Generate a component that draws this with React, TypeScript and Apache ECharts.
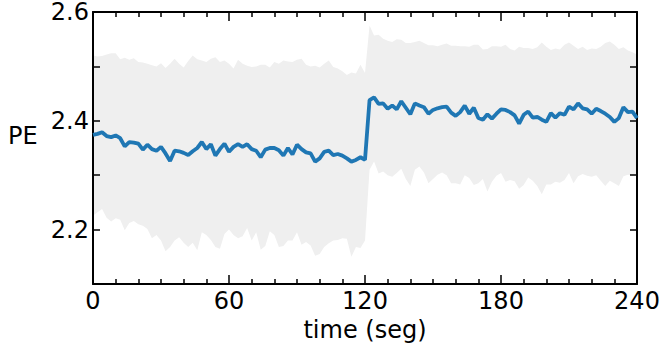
import React, { useEffect, useRef } from 'react';
import * as echarts from 'echarts';

// time grid (seconds), sampled every 2 s
const timeSec: number[] = Array.from({ length: 121 }, (_, i) => i * 2);

const xTickLabels = ['0', '60', '120', '180', '240'];
const yTickLabels = ['2.2', '2.4', '2.6'];

// mean PE
const meanPE: number[] = [
  2.374, 2.376, 2.379, 2.372, 2.370, 2.373, 2.368, 2.353, 2.361, 2.360,
  2.358, 2.347, 2.356, 2.348, 2.345, 2.352, 2.340, 2.326, 2.345, 2.344,
  2.341, 2.337, 2.344, 2.350, 2.361, 2.348, 2.357, 2.336, 2.348, 2.358,
  2.343, 2.352, 2.357, 2.352, 2.357, 2.348, 2.345, 2.333, 2.347, 2.350,
  2.350, 2.346, 2.336, 2.350, 2.338, 2.356, 2.348, 2.342, 2.340, 2.325,
  2.331, 2.343, 2.345, 2.337, 2.339, 2.336, 2.331, 2.325, 2.328, 2.333,
  2.328,
  2.438, 2.443, 2.431, 2.432, 2.422, 2.428, 2.421, 2.436, 2.424, 2.412,
  2.432, 2.428, 2.425, 2.413, 2.420, 2.423, 2.425, 2.426, 2.415, 2.409,
  2.416, 2.428, 2.413, 2.424, 2.405, 2.402, 2.412, 2.404, 2.413, 2.421,
  2.420, 2.416, 2.410, 2.395, 2.411, 2.417, 2.406, 2.407, 2.402, 2.398,
  2.414, 2.406, 2.414, 2.411, 2.426, 2.421, 2.432, 2.423, 2.421, 2.413,
  2.422, 2.418, 2.413, 2.407, 2.398, 2.405, 2.425, 2.416, 2.417, 2.405,
];

// upper edge of the spread band
const upperPE: number[] = [
  2.520, 2.518, 2.519, 2.522, 2.524, 2.524, 2.513, 2.516, 2.512, 2.515,
  2.508, 2.507, 2.505, 2.502, 2.500, 2.506, 2.497, 2.505, 2.514, 2.505,
  2.498, 2.510, 2.520, 2.513, 2.511, 2.508, 2.514, 2.517, 2.508, 2.511,
  2.505, 2.496, 2.512, 2.505, 2.501, 2.499, 2.500, 2.503, 2.503, 2.498,
  2.508, 2.505, 2.511, 2.509, 2.508, 2.512, 2.514, 2.503, 2.500, 2.501,
  2.498, 2.505, 2.511, 2.499, 2.496, 2.491, 2.484, 2.489, 2.487, 2.503,
  2.488,
  2.575, 2.557, 2.558, 2.551, 2.547, 2.545, 2.550, 2.549, 2.543, 2.543,
  2.545, 2.547, 2.543, 2.539, 2.539, 2.537, 2.540, 2.542, 2.538, 2.538,
  2.537, 2.537, 2.536, 2.540, 2.540, 2.531, 2.532, 2.537, 2.537, 2.536,
  2.540, 2.532, 2.529, 2.536, 2.534, 2.534, 2.532, 2.535, 2.544, 2.536,
  2.530, 2.533, 2.531, 2.540, 2.544, 2.538, 2.532, 2.536, 2.530, 2.533,
  2.532, 2.536, 2.543, 2.546, 2.540, 2.532, 2.535, 2.529, 2.526, 2.522,
];

// lower edge of the spread band
const lowerPE: number[] = [
  2.226, 2.232, 2.238, 2.222, 2.215, 2.221, 2.218, 2.199, 2.212, 2.216,
  2.210, 2.207, 2.201, 2.184, 2.190, 2.180, 2.160, 2.168, 2.180, 2.186,
  2.176, 2.168, 2.176, 2.162, 2.195, 2.190, 2.181, 2.168, 2.165, 2.192,
  2.200, 2.190, 2.184, 2.188, 2.203, 2.180, 2.195, 2.163, 2.170, 2.197,
  2.190, 2.168, 2.170, 2.180, 2.180, 2.195, 2.172, 2.177, 2.171, 2.152,
  2.155, 2.168, 2.175, 2.180, 2.181, 2.184, 2.183, 2.150, 2.168, 2.166,
  2.180,
  2.310, 2.325, 2.303, 2.307, 2.300, 2.297, 2.304, 2.312, 2.293, 2.280,
  2.310, 2.316, 2.305, 2.285, 2.293, 2.301, 2.305, 2.300, 2.285, 2.285,
  2.283, 2.300, 2.295, 2.282, 2.285, 2.293, 2.270, 2.288, 2.299, 2.304,
  2.288, 2.291, 2.289, 2.275, 2.282, 2.296, 2.290, 2.280, 2.265, 2.283,
  2.283, 2.288, 2.286, 2.291, 2.304, 2.285, 2.298, 2.302, 2.299, 2.297,
  2.300, 2.290, 2.280, 2.290, 2.285, 2.280, 2.298, 2.301, 2.300, 2.302,
];

const FONT = 'DejaVu Sans';
const FS = 24;

export default function App() {
  const ref = useRef<HTMLDivElement>(null);

  useEffect(() => {
    if (!ref.current) return;
    const chart = echarts.init(ref.current, null, { renderer: 'svg' });

    const bandData = timeSec.map((t, i) => [t, lowerPE[i], upperPE[i]]);
    const meanData = timeSec.map((t, i) => [t, meanPE[i]]);

    const axisLine = { show: true, onZero: false, lineStyle: { color: '#000', width: 2 } };
    const tickStyle = { color: '#000', width: 1.5 };

    const xBase = {
      type: 'value',
      min: 0,
      max: 240,
      interval: 60,
      z: 3,
      axisLine,
      axisTick: { show: true, inside: true, length: 9, lineStyle: tickStyle },
      minorTick: { show: true, splitNumber: 6, length: 5, lineStyle: tickStyle },
      splitLine: { show: false },
      minorSplitLine: { show: false },
    };

    const yBase = {
      type: 'value',
      min: 2.1,
      max: 2.6,
      interval: 0.1,
      z: 3,
      axisLine,
      axisTick: { show: true, inside: true, length: 7, lineStyle: tickStyle },
      splitLine: { show: false },
    };

    chart.setOption({
      animation: false,
      backgroundColor: '#ffffff',
      grid: { left: 93, right: 28, top: 9, bottom: 68, containLabel: false },
      xAxis: [
        {
          ...xBase,
          position: 'bottom',
          axisLabel: {
            show: true,
            color: '#000',
            fontFamily: FONT,
            fontSize: FS,
            margin: 5,
            formatter: (v: number) => {
              const s = String(Math.round(v));
              return xTickLabels.includes(s) ? s : '';
            },
          },
          name: 'time (seg)',
          nameLocation: 'middle',
          nameGap: 31,
          nameTextStyle: { color: '#000', fontFamily: FONT, fontSize: FS },
        },
        {
          ...xBase,
          position: 'top',
          axisLabel: { show: false },
        },
      ],
      yAxis: [
        {
          ...yBase,
          position: 'left',
          axisLabel: {
            show: true,
            color: '#000',
            fontFamily: FONT,
            fontSize: FS,
            lineHeight: 11,
            margin: 4,
            padding: [7, 0, 0, 0],
            formatter: (v: number) => {
              const s = v.toFixed(1);
              return yTickLabels.includes(s) ? s : '';
            },
          },
        },
        {
          ...yBase,
          position: 'right',
          axisLabel: { show: false },
        },
      ],
      graphic: [
        {
          type: 'text',
          left: 8,
          top: 124,
          style: { text: 'PE', fontFamily: FONT, fontSize: FS, fill: '#000' },
        },
      ],
      series: [
        {
          type: 'custom',
          coordinateSystem: 'cartesian2d',
          xAxisIndex: 0,
          yAxisIndex: 0,
          data: bandData,
          encode: { x: 0, y: [1, 2] },
          silent: true,
          clip: true,
          z: 1,
          renderItem: (params: any, api: any) => {
            if (params.dataIndex !== 0) return null;
            const top = bandData.map((d) => api.coord([d[0], d[2]]));
            const bottom = bandData.map((d) => api.coord([d[0], d[1]])).reverse();
            return {
              type: 'polygon',
              shape: { points: top.concat(bottom) },
              style: { fill: '#efefef', stroke: null },
              silent: true,
            };
          },
        },
        {
          type: 'line',
          data: meanData,
          xAxisIndex: 0,
          yAxisIndex: 0,
          symbol: 'none',
          lineStyle: { color: '#1f77b4', width: 3.8 },
          z: 5,
        },
      ],
    });

    return () => chart.dispose();
  }, []);

  return (
    <div
      ref={ref}
      style={{ position: 'fixed', left: 0, top: 0, width: 665, height: 352, background: '#fff' }}
    />
  );
}
